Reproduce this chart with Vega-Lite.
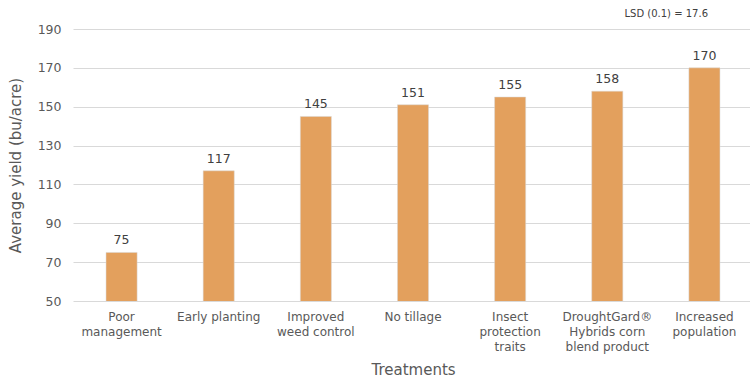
{
  "$schema": "https://vega.github.io/schema/vega-lite/v6.json",
  "width": 680,
  "height": 272,
  "autosize": {"type": "none"},
  "padding": {"left": 73, "top": 29, "right": 0, "bottom": 80},
  "background": "white",
  "title": {"text": "LSD (0.1) = 17.6", "anchor": "end", "fontSize": 10, "font": "DejaVu Sans", "fontWeight": "normal", "color": "#404040", "dx": -45, "offset": 4},
  "data": {"values": [
    {"treatment": "Poor\nmanagement", "yield": 75},
    {"treatment": "Early planting", "yield": 117},
    {"treatment": "Improved\nweed control", "yield": 145},
    {"treatment": "No tillage", "yield": 151},
    {"treatment": "Insect\nprotection\ntraits", "yield": 155},
    {"treatment": "DroughtGard®\nHybrids corn\nblend product", "yield": 158},
    {"treatment": "Increased\npopulation", "yield": 170}
  ]},
  "encoding": {
    "x": {"field": "treatment", "type": "nominal", "sort": null,
      "scale": {"paddingInner": 0.68, "paddingOuter": 0.34},
      "axis": {"title": "Treatments", "labelAngle": 0, "labelExpr": "split(datum.value, '\\n')",
        "labelFont": "DejaVu Sans", "labelFontSize": 12, "labelColor": "#595959", "labelLineHeight": 15, "labelPadding": 10,
        "ticks": false, "domain": false, "titleFont": "DejaVu Sans", "titleFontSize": 15, "titleFontWeight": "normal", "titleColor": "#595959", "titleY": 61}},
    "y": {"field": "yield", "type": "quantitative",
      "scale": {"domain": [50, 190], "nice": false, "zero": false},
      "axis": {"title": "Average yield (bu/acre)", "values": [50, 70, 90, 110, 130, 150, 170, 190],
        "labelFont": "DejaVu Sans", "labelFontSize": 12.5, "labelColor": "#595959", "labelPadding": 12,
        "ticks": false, "domain": false, "gridColor": "#D9D9D9", "gridWidth": 1,
        "titleFont": "DejaVu Sans", "titleFontSize": 15, "titleFontWeight": "normal", "titleColor": "#595959", "titleX": -50}}
  },
  "layer": [
    {"mark": {"type": "bar", "clip": true, "color": "#E3A05D", "stroke": "#D9D9D9", "strokeWidth": 0.5}},
    {"mark": {"type": "text", "baseline": "bottom", "dy": -5, "font": "DejaVu Sans", "fontSize": 12.5, "color": "#404040"},
     "encoding": {"text": {"field": "yield", "type": "quantitative"}}}
  ],
  "config": {"view": {"stroke": null}}
}
